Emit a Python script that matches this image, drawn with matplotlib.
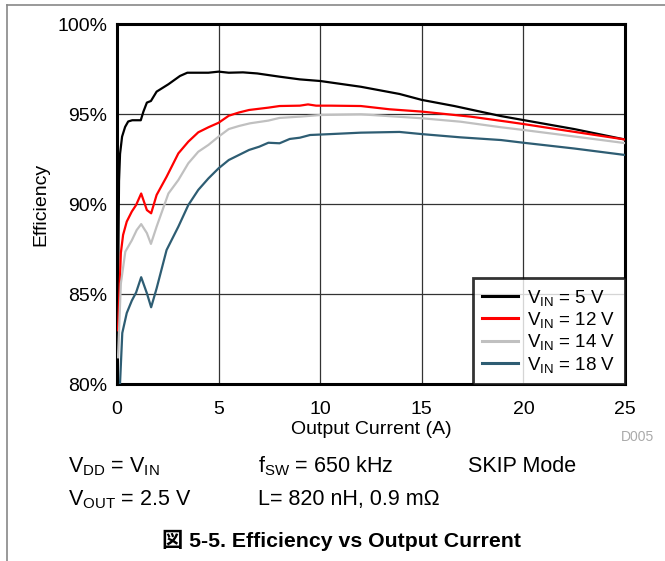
import matplotlib
matplotlib.use("Agg")
import matplotlib.pyplot as plt
from matplotlib.lines import Line2D

plt.rcParams['font.family'] = ['Liberation Sans', 'Noto Sans CJK JP', 'DejaVu Sans']
plt.rcParams['mathtext.fontset'] = 'custom'
plt.rcParams['mathtext.rm'] = 'Liberation Sans'
plt.rcParams['mathtext.it'] = 'Liberation Sans:italic'
plt.rcParams['mathtext.bf'] = 'Liberation Sans:bold'

# data (current in A, efficiency in %)
x_5v = [0.05, 0.1, 0.15, 0.25, 0.4, 0.55, 0.75, 1.0, 1.17, 1.3, 1.47, 1.67, 1.95, 2.53,
        3.1, 3.46, 4.0, 4.5, 5.0, 5.5, 6.2, 6.9, 8.0, 9.0, 10.0, 12.0, 13.9, 15.0, 16.6,
        18.9, 20.0, 22.5, 25.0]
eff_5v = [85.0, 91.3, 92.8, 93.76, 94.3, 94.6, 94.67, 94.67, 94.67, 95.15, 95.65, 95.74,
          96.26, 96.67, 97.13, 97.31, 97.31, 97.31, 97.37, 97.31, 97.33, 97.27, 97.09,
          96.94, 96.85, 96.53, 96.13, 95.8, 95.46, 94.9, 94.68, 94.18, 93.6]

x_12v = [0.05, 0.19, 0.3, 0.48, 0.73, 0.94, 1.19, 1.47, 1.68, 1.95, 2.44, 3.02, 3.51, 4.0,
         4.5, 5.0, 5.5, 6.0, 6.5, 7.45, 8.0, 9.0, 9.4, 9.8, 10.5, 12.0, 13.4, 15.0, 17.4,
         19.2, 20.0, 21.6, 25.0]
eff_12v = [83.0, 87.3, 88.3, 89.04, 89.6, 89.96, 90.6, 89.68, 89.5, 90.52, 91.53, 92.83,
           93.48, 94.0, 94.28, 94.53, 94.92, 95.1, 95.24, 95.37, 95.46, 95.48, 95.55,
           95.48, 95.48, 95.46, 95.28, 95.15, 94.87, 94.59, 94.46, 94.18, 93.6]

x_14v = [0.05, 0.19, 0.41, 0.73, 0.97, 1.19, 1.47, 1.67, 1.95, 2.53, 3.02, 3.51, 4.0, 4.5,
         5.0, 5.5, 6.0, 6.55, 7.45, 8.0, 9.0, 10.0, 12.0, 15.0, 16.9, 18.9, 20.0, 21.6, 25.0]
eff_14v = [81.5, 85.6, 87.37, 88.0, 88.57, 88.9, 88.4, 87.8, 88.76, 90.6, 91.35, 92.28,
           92.92, 93.3, 93.76, 94.18, 94.35, 94.5, 94.65, 94.8, 94.87, 94.96, 95.0, 94.78,
           94.59, 94.28, 94.13, 93.9, 93.4]

x_18v = [0.15, 0.26, 0.48, 0.73, 0.94, 1.19, 1.47, 1.68, 1.95, 2.44, 3.02, 3.51, 4.0, 4.5,
         5.0, 5.5, 6.0, 6.5, 7.0, 7.45, 8.0, 8.5, 9.0, 9.5, 10.5, 12.0, 13.9, 15.0, 16.9,
         18.9, 20.0, 22.5, 25.0]
eff_18v = [80.07, 82.85, 83.96, 84.65, 85.1, 85.95, 85.06, 84.28, 85.33, 87.46, 88.76,
           89.96, 90.8, 91.44, 92.0, 92.46, 92.74, 93.02, 93.2, 93.42, 93.39, 93.63, 93.7,
           93.85, 93.9, 93.98, 94.02, 93.9, 93.72, 93.57, 93.42, 93.1, 92.74]

labels = [r'V$_{\mathrm{IN}}$ = 5 V', r'V$_{\mathrm{IN}}$ = 12 V',
          r'V$_{\mathrm{IN}}$ = 14 V', r'V$_{\mathrm{IN}}$ = 18 V']
colors = ['#000000', '#ff0000', '#c0c0c0', '#2e5d73']

fig = plt.figure(figsize=(6.65, 5.61), dpi=100)
ax = fig.add_axes([117/665, 1-384.3/561, 508/665, 360/561])

series = [(x_5v, eff_5v), (x_12v, eff_12v), (x_14v, eff_14v), (x_18v, eff_18v)]
for (xs, ys), c, lab in zip(series, colors, labels):
    ax.plot(xs, ys, color=c, lw=1.6, label=lab, zorder=3)

ax.set_xlim(0, 25)
ax.set_ylim(80, 100)
ax.set_xticks([0, 5, 10, 15, 20, 25])
ax.set_yticks([80, 85, 90, 95, 100])
ax.set_yticklabels(['80%', '85%', '90%', '95%', '100%'])
ax.tick_params(length=0, labelsize=14)
ax.tick_params(axis='x', pad=12)
ax.tick_params(axis='y', pad=7)
ax.grid(True, color='#333333', lw=0.9)
ax.set_axisbelow(True)
for s in ax.spines.values():
    s.set_linewidth(2.2)
ax.set_xlabel('Output Current (A)', fontsize=14, labelpad=2)
ax.set_ylabel('Efficiency', fontsize=14, labelpad=6)

leg = ax.legend(loc='lower right', fontsize=13.5, frameon=True, fancybox=False,
                borderaxespad=0, handlelength=1.9, labelspacing=0.13,
                borderpad=0.5, handletextpad=0.5)
leg.get_frame().set_edgecolor('black')
leg.get_frame().set_linewidth(2.0)
for h in leg.get_lines():
    h.set_linewidth(2.2)

fig.text(637/665, 1-437/561, 'D005', fontsize=10, color='#aaaaaa', ha='center', va='center')
fig.text(68/665, 1-472/561, r'V$_{\mathrm{DD}}$ = V$_{\mathrm{IN}}$', fontsize=15.5, va='baseline')
fig.text(258/665, 1-472/561, r'f$_{\mathrm{SW}}$ = 650 kHz', fontsize=15.5, va='baseline')
fig.text(468/665, 1-472/561, 'SKIP Mode', fontsize=15.5, va='baseline')
fig.text(68/665, 1-505/561, r'V$_{\mathrm{OUT}}$ = 2.5 V', fontsize=15.5, va='baseline')
fig.text(258/665, 1-505/561, 'L= 820 nH, 0.9 mΩ', fontsize=15.5, va='baseline')
fig.text(342/665, 1-547/561, '図 5-5. Efficiency vs Output Current', fontsize=15.3,
         fontweight='bold', ha='center', va='baseline')

# page frame (top and left edges)
fig.add_artist(Line2D([7/665, 1], [1-5/561, 1-5/561], color='#888888', lw=1.2))
fig.add_artist(Line2D([7/665, 7/665], [0, 1-5/561], color='#888888', lw=1.2))

fig.savefig('out.png', dpi=100)
